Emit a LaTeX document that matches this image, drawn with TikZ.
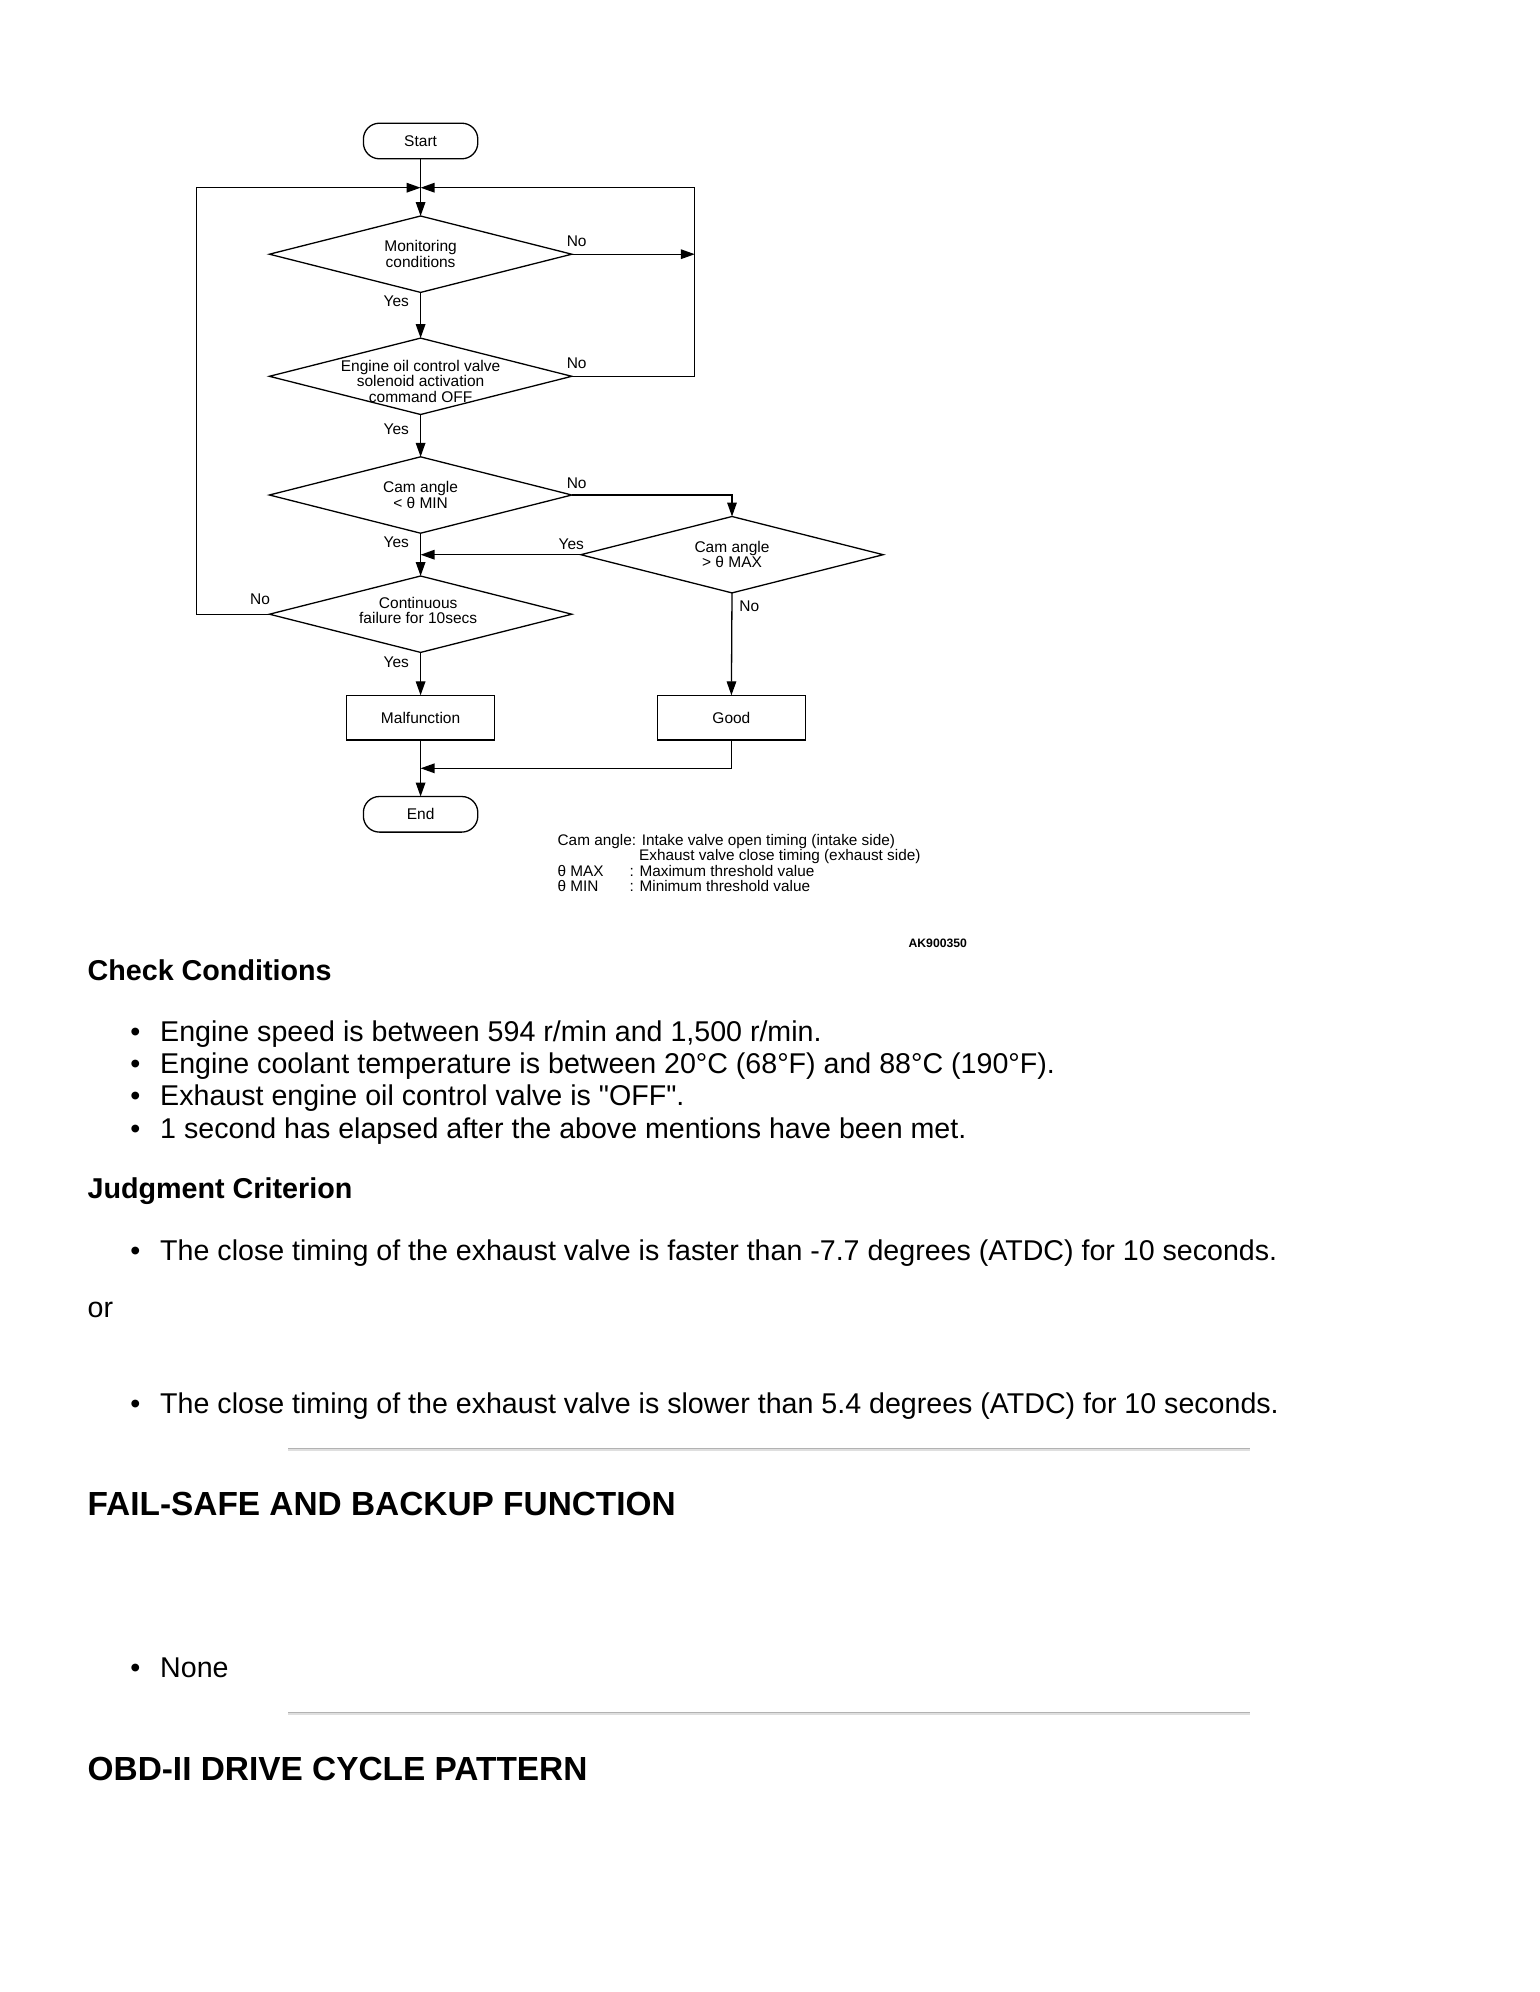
\documentclass[tikz,border=0pt]{standalone}
\usepackage{fontspec}
\setmainfont{Liberation Sans}
\usetikzlibrary{shapes.geometric, positioning, calc, arrows.meta}

\newcommand{\fcsize}{\fontsize{7.75}{7.75}\selectfont}
\newcommand{\legsize}{\fontsize{7.67}{7.67}\selectfont}
\newcommand{\bodysize}{\fontsize{14.3}{17}\selectfont}
\newcommand{\bul}{\makebox[15pt][l]{\textbullet}}

\begin{document}
\begin{tikzpicture}[x=0.5pt, y=-0.5pt, line width=0.65pt,
    arr/.style={-{Triangle[length=7pt, width=4.8pt]}},
    decision/.style={diamond, draw, aspect=3.96, minimum width=151.2pt, minimum height=38.2pt, inner sep=0pt, outer sep=0pt},
    process/.style={rectangle, draw, minimum width=73.8pt, minimum height=22.4pt, inner sep=0pt, outer sep=0pt, font=\fcsize},
    terminal/.style={rectangle, draw, rounded corners=8pt, minimum width=57.2pt, minimum height=17.8pt, inner sep=0pt, outer sep=0pt, font=\fcsize},
    fctext/.style={align=center, inner sep=0pt, font=\fcsize},
    tag/.style={inner sep=0pt, font=\fcsize},
    legend/.style={anchor=base west, inner sep=0pt, font=\legsize},
    body/.style={anchor=base west, inner sep=0pt, font=\bodysize},
    subhead/.style={anchor=base west, inner sep=0pt, font=\bfseries\fontsize{14.35}{17}\selectfont},
    head/.style={anchor=base west, inner sep=0pt, font=\bfseries\fontsize{16.7}{20}\selectfont}]

    % Page frame
    \fill[white] (0,0) rectangle (1540,1992);
    \useasboundingbox (0,0) rectangle (1540,1992);

    % Start and the junction where both loops come back
    \node[terminal] (start) at (420.6,141) {Start};
    \coordinate (jn) at (420.6,187.7);
    \coordinate (lloop) at (196.2,187.7);
    \coordinate (rloop) at (694.8,187.7);

    % Decision chain down the main axis
    \node[decision] (monitor) at (420.6,254.2) {};
    \node[fctext] (monitortxt) at (monitor) {Monitoring\\conditions};

    \node[decision] (solenoid) at (420.6,376.3) {};
    \node[fctext] (solenoidtxt) at ([yshift=-2.5pt]solenoid.center) {Engine oil control valve\\solenoid activation\\command OFF};

    \node[decision] (minchk) at (420.6,495) {};
    \node[fctext] (minchktxt) at (minchk) {Cam angle\\< θ MIN};

    \node[decision] (maxchk) at (732,554.7) {};
    \node[fctext] (maxchktxt) at (maxchk) {Cam angle\\> θ MAX};

    \node[decision] (contfail) at (420.6,614.2) {};
    \node[fctext] (contfailtxt) at ([xshift=-1.2pt, yshift=1.8pt]contfail.center) {Continuous\\failure for 10secs};

    % Results and end
    \node[process] (malf) at (420.6,717.7) {Malfunction};
    \node[process] (good) at (731.4,717.7) {Good};
    \node[terminal] (stop) at (420.6,814.3) {End};
    \coordinate (mrg) at (420.6,768.3);

    % Main axis arrows
    \draw[arr] (start.south) -- (monitor.north);
    \draw[arr] (monitor.south) -- (solenoid.north);
    \draw[arr] (solenoid.south) -- (minchk.north);
    \draw[arr] (minchk.south) -- (contfail.north);
    \draw[arr] (contfail.south) -- (malf.north);
    \draw[arr] (malf.south) -- (stop.north);

    % Right loop back to the top
    \draw[arr] (monitor.east) -- (monitor.east -| rloop);
    \draw[arr] (solenoid.east) -| (rloop) -- (jn);

    % Left loop back to the top
    \draw[arr] (contfail.west) -| (lloop) -- (jn);

    % Side branch through the max check
    \draw[arr] (minchk.east) -| (maxchk.north);
    \draw[arr] (maxchk.west) -- (maxchk.west -| contfail.north);
    \draw[arr] (maxchk.south) -- (good.north);
    \draw[arr] (good.south) |- (mrg);

    % Yes / No tags
    \node[tag] (no1) at (576.7,241.7) {No};
    \node[tag] (yes1) at (396.3,301.7) {Yes};
    \node[tag] (no2) at (576.7,363.3) {No};
    \node[tag] (yes2) at (396.3,429.5) {Yes};
    \node[tag] (no3) at (576.7,483.3) {No};
    \node[tag] (yes3) at (396.3,542.3) {Yes};
    \node[tag] (yes4) at (571.3,544) {Yes};
    \node[tag] (no4) at (749.3,606.7) {No};
    \node[tag] (no5) at (260,599.3) {No};
    \node[tag] (yes5) at (396.3,662.7) {Yes};

    % Legend
    \node[legend] (leg1) at (557,845) {Cam angle: Intake valve open timing (intake side)};
    \node[legend] (leg2) at (638.5,860.5) {Exhaust valve close timing (exhaust side)};
    \node[legend] (leg3) at (557,876) {\makebox[36pt][l]{θ MAX}: Maximum threshold value};
    \node[legend] (leg4) at (557,891.5) {\makebox[36pt][l]{θ MIN}: Minimum threshold value};
    \node[anchor=base east, inner sep=0pt, font=\bfseries\fontsize{6.1}{7}\selectfont] (figid) at (967.6,947) {AK900350};

    % Check conditions
    \node[subhead] (cchead) at (87,980.3) {Check Conditions};
    \node[body] (cc1) at (129.6,1041) {\bul Engine speed is between 594 r/min and 1,500 r/min.};
    \node[body] (cc2) at (129.6,1073.5) {\bul Engine coolant temperature is between 20°C (68°F) and 88°C (190°F).};
    \node[body] (cc3) at (129.6,1105.2) {\bul Exhaust engine oil control valve is \textquotedbl OFF\textquotedbl.};
    \node[body] (cc4) at (129.6,1138) {\bul 1 second has elapsed after the above mentions have been met.};

    % Judgment criterion
    \node[subhead] (jchead) at (87,1198.5) {Judgment Criterion};
    \node[body] (jc1) at (129.6,1260.2) {\bul The close timing of the exhaust valve is faster than -7.7 degrees (ATDC) for 10 seconds.};
    \node[body] (orword) at (87,1317.5) {or};
    \node[body] (jc2) at (129.6,1413.5) {\bul The close timing of the exhaust valve is slower than 5.4 degrees (ATDC) for 10 seconds.};

    % Separator rules
    \draw[gray!60, line width=0.6pt] (288,1448.5) -- (1250,1448.5);
    \draw[gray!25, line width=0.6pt] (288,1450) -- (1250,1450);
    \draw[gray!60, line width=0.6pt] (288,1712.5) -- (1250,1712.5);
    \draw[gray!25, line width=0.6pt] (288,1714) -- (1250,1714);

    % Lower sections
    \node[head] (fshead) at (87,1515.3) {FAIL-SAFE AND BACKUP FUNCTION};
    \node[body] (fs1) at (129.6,1677) {\bul None};
    \node[head] (obdhead) at (87,1780.3) {OBD-II DRIVE CYCLE PATTERN};

\end{tikzpicture}
\end{document}
